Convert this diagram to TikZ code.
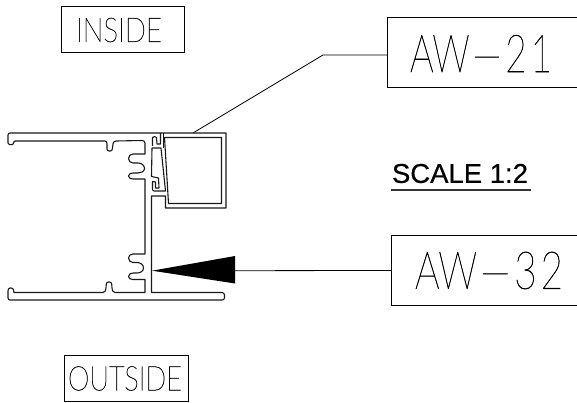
\documentclass[tikz,border=0pt]{standalone}
\usepackage{fontspec}
\setmainfont{Liberation Sans}
\newfontfamily\cadfont[FakeBold=1.0]{Lato Thin}
\newfontfamily\scalefont[FakeBold=0.5]{Liberation Sans}
\tikzset{
  x=1pt,y=-1pt,
  prof/.style={line width=1.1pt,line join=round,black!90},
  tagbox/.style={line width=1pt,black},
  cadlabel/.style={font=\cadfont,inner sep=0pt,anchor=center},
  leader/.style={line width=0.8pt,black}
}
\begin{document}
\begin{tikzpicture}
\useasboundingbox (0,0) rectangle (577,403);
% boxes
\draw[tagbox] (61,7) rectangle (184,53);
\node[cadlabel] (inside) at (119,30) {\resizebox{86pt}{24pt}{INSIDE}};
\draw[tagbox] (64.5,355) rectangle (188,401);
\node[cadlabel] (outside) at (125,378.5) {\resizebox{114pt}{24pt}{OUTSIDE}};
\draw[tagbox] (577,18) -- (387,18) -- (387,88) -- (577,88);
\coordinate (aw21w) at (387,55);
\node[cadlabel] (aw21) at (481,53.5) {\resizebox{142pt}{37pt}{AW\kern.08em —\kern.1em 2\kern.1em 1}};
\draw[tagbox] (577,235) -- (391,235) -- (391,305.5) -- (577,305.5);
\coordinate (aw32w) at (391,270.5);
\node[cadlabel] (aw32) at (489,270.5) {\resizebox{148pt}{37pt}{AW\kern.08em —\kern.1em 3\kern.1em 2}};
% scale
\node[inner sep=0pt,font=\scalefont] (scale) at (460,173.5) {\resizebox{136pt}{19pt}{SCALE 1:2}};
\draw[line width=1.3pt,black!80] (391,190) -- (531,190);
% leaders
\coordinate (clipTop) at (193,133);
\draw[leader] (aw21w) -- (323,55) -- (clipTop);
\coordinate (tipA) at (152,270.7);
\coordinate (tipB) at (235,270.7);
\draw[leader] (aw32w) -- (tipB);
\fill[black] (tipA) -- (235,256) -- (235,283.5) -- cycle;
% top flange, bosses, web
\draw[prof] (226,133) -- (10,133) to[out=180,in=90] (8,135) -- (8,143) to[out=-90,in=180] (9.5,144.7) -- (12,144.7) to[out=0,in=-90] (13.5,142.5) to[out=90,in=180] (15,141)
 -- (105,141) to[out=0,in=90] (107,144) -- (107,149) to[out=-90,in=180] (109,151) -- (110.5,151) to[out=0,in=-90] (112.5,148) to[out=90,in=180] (116,141)
 -- (142,140.5) to[out=0,in=90] (145,143) -- (145,154) -- (133,154) to[out=180,in=90] (128.5,158.5) to[out=-90,in=180] (133,163)
 -- (138,163) to[out=0,in=90] (144.5,168.5) to[out=-90,in=0] (138,173) -- (133,173) to[out=180,in=90] (128.5,176) to[out=-90,in=180] (133,179) -- (145,179)
 -- (145,254) -- (133,254) to[out=180,in=90] (128.5,258) to[out=-90,in=180] (133,262.5) -- (137,262.5) to[out=0,in=90] (143.5,268) to[out=-90,in=0] (137,273) -- (133,273) to[out=180,in=90] (128.5,276.5) to[out=-90,in=180] (133,279.5) -- (145,279.5) -- (145,292.5)
 -- (115,292.5) to[out=180,in=-90] (112,288) to[out=90,in=0] (109.5,282) -- (108.5,282) to[out=180,in=90] (106,288) to[out=-90,in=0] (103,292.5) -- (14,292.5) -- (13.5,290) to[out=90,in=0] (11,288) -- (10,288) to[out=180,in=90] (8,291) -- (8,298) to[out=-90,in=180] (10,300) -- (222,300) to[out=0,in=-90] (224.5,298) -- (224.5,295) to[out=90,in=0] (222,292.5) -- (151.5,292.5) -- (151.5,196) -- (165.5,196) -- (165.5,208) -- (226,208) -- cycle;
% cavity
\draw[prof] (164.5,137.5) -- (221.5,137.5) -- (221.5,203.5) -- (168.5,203.5) -- cycle;
% upper clip
\draw[prof] (160.5,133) -- (160.5,144) -- (157,144) -- (156.5,137.5) to[out=120,in=45] (152.5,137.5) -- (152.5,146);
\draw[prof] (152,148) -- (161,148) -- (165.5,191) -- (154,191) to[out=180,in=-90] (152.5,189) -- (152.5,181.5) -- (155.5,182) -- (155.5,188) -- (159,188) -- (158.5,178) -- (151.5,176.5) -- cycle;
\draw[prof] (163.5,133) -- (163.5,148);
\end{tikzpicture}
\end{document}
